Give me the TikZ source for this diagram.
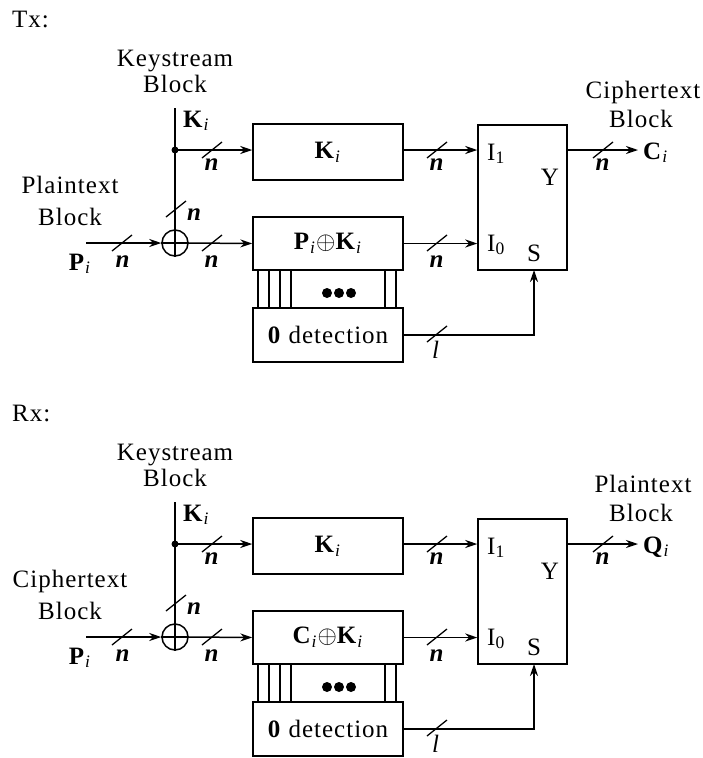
\documentclass[tikz,border=0pt]{standalone}
\usepackage{fontspec}
\setmainfont{Liberation Serif}[LetterSpace=4]
\usetikzlibrary{arrows.meta}
\newcommand\bsub[2]{\textbf{#1}\textsubscript{\textit{#2}}}
\newcommand\busn{\textbf{\textit{n}}}
\tikzset{
  lbl/.style={font=\fontsize{25}{29}\selectfont, inner sep=0pt, anchor=base},
  wire/.style={line width=1.5pt},
  blk/.style={draw, wire, minimum width=150pt, inner sep=0pt, font=\fontsize{25}{29}\selectfont},
  arr/.style={wire, -{Stealth[length=12pt,width=8pt]}},
  bus/.pic={\draw[line width=1.3pt] (-10,8) -- (10,-8);},
}
\newcommand\stage[7]{%
\begin{scope}[shift={(0,#2)}]
  % texts
  \node[lbl, anchor=base west] (#1title) at (12,27) {#3};
  \node[lbl] (#1ks1) at (175,66) {Keystream};
  \node[lbl] (#1ks2) at (175,92) {Block};
  \node[lbl, anchor=base west] (#1kl) at (183,127) {\bsub{K}{i}};
  \node[lbl] (#1ll1) at (70,193) {#4};
  \node[lbl] (#1ll2) at (70,225) {Block};
  \node[lbl] (#1pl) at (80,270) {\bsub{P}{i}};
  \node[lbl] (#1rl1) at (643,98) {#6};
  \node[lbl] (#1rl2) at (641,127) {Block};
  \node[lbl, anchor=base west] (#1out) at (643,159) {#7};
  % blocks
  \node[blk, minimum height=56pt] (#1kb) at (328,152) {\bsub{K}{i}};
  \node[blk, minimum height=53pt] (#1pk) at (328,243.5) {#5};
  \node[blk, minimum height=54pt] (#1zb) at (328,335) {\textbf{0} detection};
  \node[draw, wire, minimum width=89pt, minimum height=145pt, inner sep=0pt] (#1mux) at (522.5,197.5) {};
  \node[lbl, anchor=base west] (#1i1) at (487,160) {I\textsubscript{1}};
  \node[lbl] (#1y) at (550,185) {Y};
  \node[lbl, anchor=base west] (#1i0) at (487,251) {I\textsubscript{0}};
  \node[lbl] (#1s) at (534,261) {S};
  \node[circle, draw, wire, minimum size=26pt, inner sep=0pt] (#1x) at (175,243) {};
  \draw[wire] (#1x.north) -- (#1x.south) (#1x.west) -- (#1x.east);
  % coordinates
  \coordinate (#1kt) at (175,108);
  \coordinate (#1jn) at (175,150);
  \coordinate (#1pin) at (86,243);
  \coordinate (#1co) at (638,150);
  \coordinate (#1sx) at (534,270);
  % connectors
  \draw[wire] (#1kt) -- (#1x.north);
  \fill (#1jn) circle (3.5pt);
  \draw[arr] (#1jn) -- (#1jn -| #1kb.west);
  \draw[arr] (#1pin) -- (#1x.west);
  \draw[arr] (#1x.east) -- (#1pk.west);
  \draw[arr] (#1jn -| #1kb.east) -- (#1jn -| #1mux.west);
  \draw[arr] (#1pk.east) -- (#1pk.east -| #1mux.west);
  \draw[arr] (#1jn -| #1mux.east) -- (#1co);
  \draw[arr] (#1zb.east) -- (#1zb.east -| #1sx) -- (#1sx);
  % parallel lines between register and detector
  \foreach \vx in {258,269,280,291,385,396}
    \draw[line width=1.2pt] (\vx,0 |- #1pk.south) -- (\vx,0 |- #1zb.north);
  \foreach \dx in {327,339,351}
    \fill (\dx,293) circle (5pt);
  % bus width marks
  \pic at (212,150) {bus};
  \node[lbl] (#1n1) at (212,170) {\busn};
  \pic at (122,243) {bus};
  \node[lbl] (#1n2) at (123,267) {\busn};
  \pic at (212,243) {bus};
  \node[lbl] (#1n3) at (212,267) {\busn};
  \pic at (437,150) {bus};
  \node[lbl] (#1n4) at (437,170) {\busn};
  \pic at (437,243) {bus};
  \node[lbl] (#1n5) at (437,267) {\busn};
  \pic at (603,150) {bus};
  \node[lbl] (#1n6) at (603,170) {\busn};
  \pic at (176,209) {bus};
  \node[lbl, anchor=base west] (#1n7) at (187,220) {\busn};
  \pic at (437,334) {bus};
  \node[lbl] (#1l) at (436,358) {\textit{l}};
\end{scope}}
\begin{document}
\begin{tikzpicture}[x={(1pt,0)}, y={(0,-1pt)}]
\useasboundingbox (0,0) rectangle (703,758);
\stage{tx}{0}{Tx:}{Plaintext}{\bsub{P}{i}$\oplus$\bsub{K}{i}}{Ciphertext}{\bsub{C}{i}}
\stage{rx}{394}{Rx:}{Ciphertext}{\bsub{C}{i}$\oplus$\bsub{K}{i}}{Plaintext}{\bsub{Q}{i}}
\end{tikzpicture}
\end{document}
